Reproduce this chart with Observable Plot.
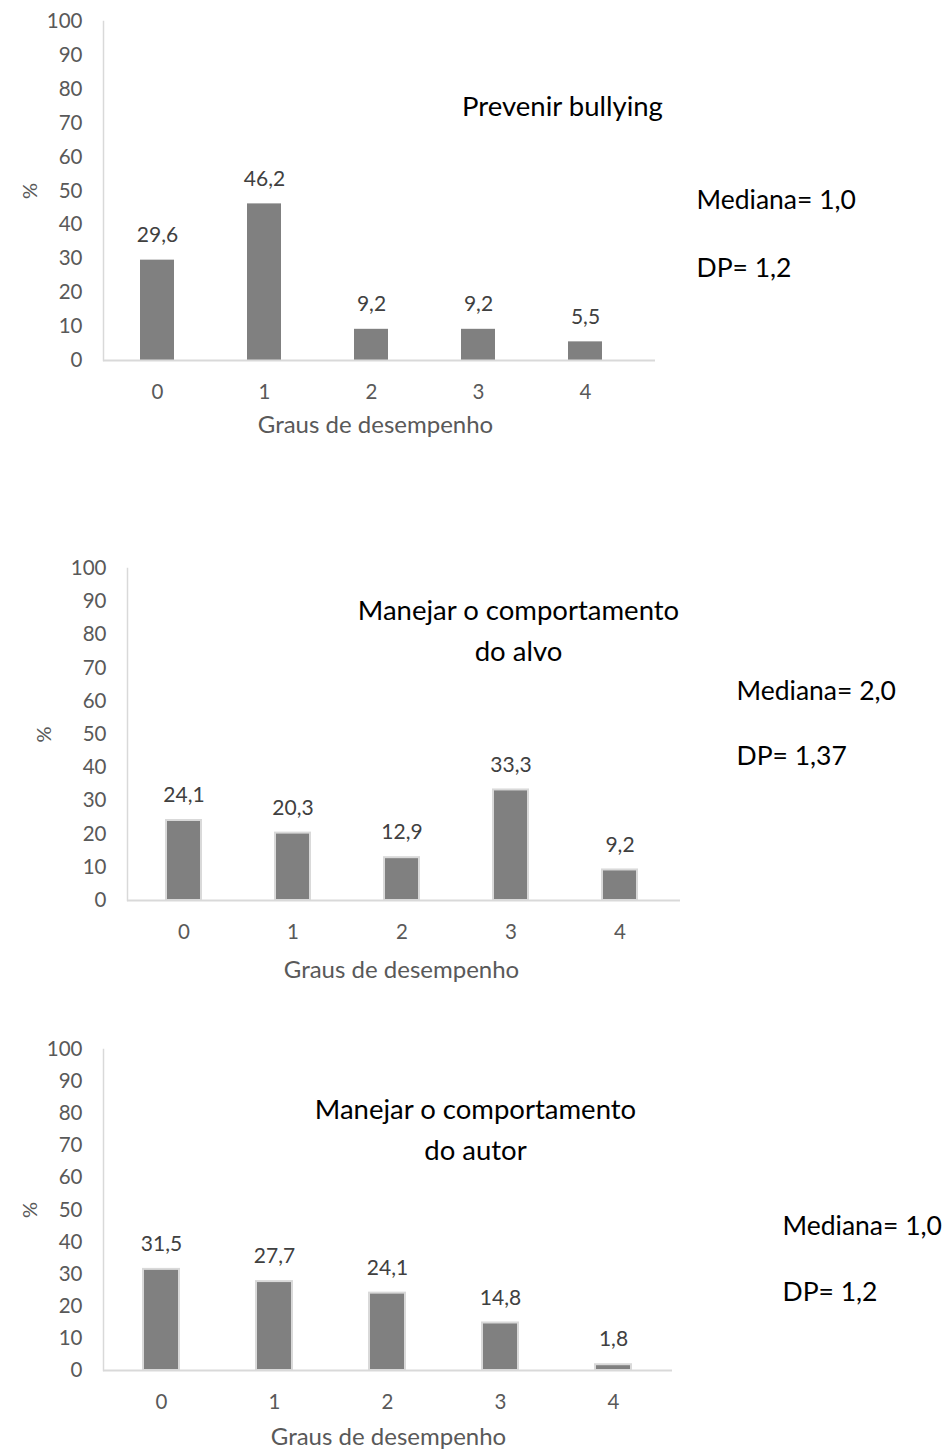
<!DOCTYPE html>
<html>
<head>
<meta charset="utf-8">
<script src="https://cdn.jsdelivr.net/npm/d3@7"></script>
<script src="https://cdn.jsdelivr.net/npm/@observablehq/plot@0.6"></script>
<style>
  html, body { margin: 0; padding: 0; background: #fff; }
  #charts svg { display: block; }
</style>
</head>
<body>
<div id="charts"></div>
<script>
// Performance grades (x categories) and y ticks shared by the three panels
const graus = ["0", "1", "2", "3", "4"];
const yTicks = [0, 10, 20, 30, 40, 50, 60, 70, 80, 90, 100];

// Percentage of participants per grade, one array per skill
const prevenirBullying = [29.6, 46.2, 9.2, 9.2, 5.5];
const comportamentoAlvo = [24.1, 20.3, 12.9, 33.3, 9.2];
const comportamentoAutor = [31.5, 27.7, 24.1, 14.8, 1.8];

// Panel titles and summary statistics
const titulos = ["Prevenir bullying", "Manejar o comportamento\ndo alvo", "Manejar o comportamento\ndo autor"];
const medianas = ["Mediana= 1,0", "Mediana= 2,0", "Mediana= 1,0"];
const desvios = ["DP= 1,2", "DP= 1,37", "DP= 1,2"];

const fmt = v => v.toFixed(1).replace(".", ",");

// Layout of each panel (pixels within the panel's own svg)
const panels = [
  {values: prevenirBullying, height: 470, mt: 21, ml: 103, bottom: 360, right: 655, insetRight: 15,
   pctX: 30, titleX: 562, titleY: 102, statX: 696, medY: 200, dpY: 268, stroke: null,
   xLabelX: 375, xLabelY: 425},
  {values: comportamentoAlvo, height: 520, mt: 98, ml: 127, bottom: 430, right: 680, insetRight: 5,
   pctX: 44, titleX: 518, titleY: 157, statX: 736, medY: 221, dpY: 286, stroke: "#d9d9d9",
   xLabelX: 401, xLabelY: 500},
  {values: comportamentoAutor, height: 462, mt: 59, ml: 103, bottom: 380, right: 672, insetRight: 0,
   pctX: 30, titleX: 475, titleY: 136, statX: 782, medY: 236, dpY: 302, stroke: "#d9d9d9",
   xLabelX: 388, xLabelY: 447}
];

const W = 952;
const container = document.getElementById("charts");

panels.forEach((p, i) => {
  const data = graus.map((g, k) => ({grau: g, pct: p.values[k]}));
  // place a free-standing label at (x, y) inside this panel's svg
  const at = (x, y) => ({frameAnchor: "top-left", dx: x - p.ml, dy: y - p.mt, lineAnchor: "middle"});
  const chart = Plot.plot({
    width: W,
    height: p.height,
    marginTop: p.mt,
    marginLeft: p.ml,
    marginRight: W - p.right,
    marginBottom: p.height - p.bottom,
    style: {fontFamily: "Lato, 'Open Sans', sans-serif", fontSize: "20px", color: "#595959", background: "#fff"},
    x: {domain: graus, paddingInner: 0.68, paddingOuter: 0.34, insetRight: p.insetRight, label: null},
    y: {domain: [0, 100], label: null},
    marks: [
      Plot.axisY({ticks: yTicks, tickSize: 0, tickPadding: 21, fill: "#595959", fontSize: 20.5, label: null}),
      Plot.axisX({tickSize: 0, tickPadding: 24, fill: "#595959", fontSize: 20.5, label: null}),
      Plot.frame({anchor: "left", stroke: "#d9d9d9", strokeWidth: 1.5}),
      Plot.barY(data, {x: "grau", y: "pct", fill: "#808080",
        stroke: p.stroke, strokeWidth: p.stroke ? 2 : 0}),
      Plot.ruleY([0], {stroke: "#d9d9d9", strokeWidth: 2}),
      Plot.text(data, {x: "grau", y: "pct", text: d => fmt(d.pct), dy: -25,
        fill: "#404040", fontSize: 21}),
      Plot.text(["%"], {...at(p.pctX, (p.mt + p.bottom) / 2), textAnchor: "middle", rotate: -90,
        fill: "#595959", fontSize: 20}),
      Plot.text(["Graus de desempenho"], {...at(p.xLabelX, p.xLabelY), textAnchor: "middle",
        fill: "#595959", fontSize: 24}),
      Plot.text([titulos[i]], {...at(p.titleX, p.titleY), textAnchor: "middle",
        fill: "#000", fontSize: 27.5, lineHeight: 1.5}),
      Plot.text([medianas[i]], {...at(p.statX, p.medY), textAnchor: "start", fill: "#000", fontSize: 26.5}),
      Plot.text([desvios[i]], {...at(p.statX, p.dpY), textAnchor: "start", fill: "#000", fontSize: 26.5})
    ]
  });
  container.appendChild(chart);
});
</script>
</body>
</html>
